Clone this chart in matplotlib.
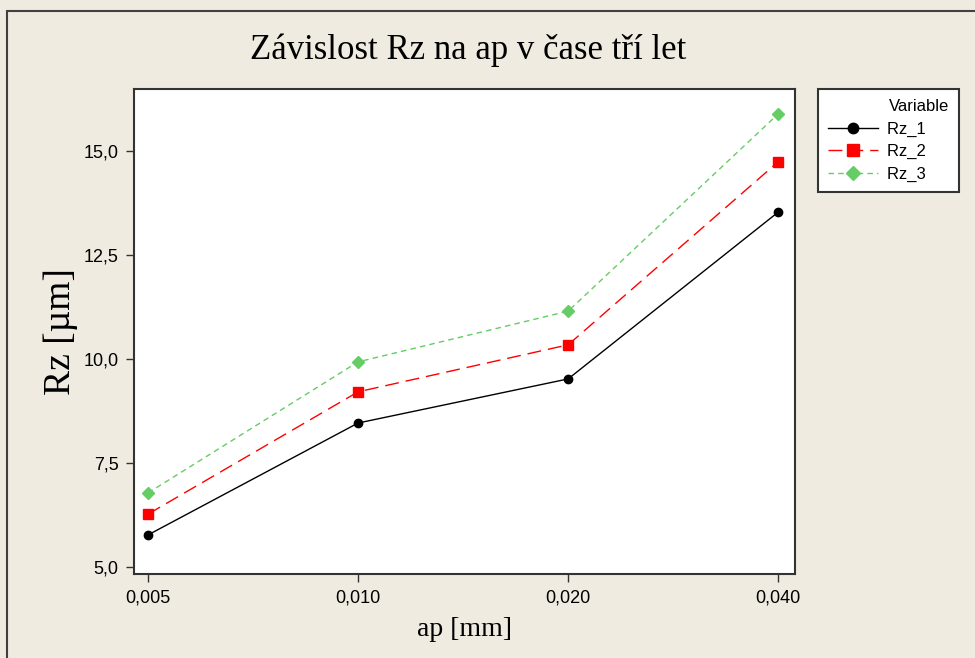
import matplotlib.pyplot as plt
from matplotlib.patches import Rectangle

# data
ap_labels = ["0,005", "0,010", "0,020", "0,040"]
rz_1 = [5.77, 8.46, 9.52, 13.53]
rz_2 = [6.27, 9.21, 10.34, 14.74]
rz_3 = [6.78, 9.93, 11.15, 15.89]
y_ticks = [5.0, 7.5, 10.0, 12.5, 15.0]
y_tick_labels = ["5,0", "7,5", "10,0", "12,5", "15,0"]

bg = "#efebe1"
W, H = 975, 658

fig = plt.figure(figsize=(W / 100, H / 100), dpi=100, facecolor=bg)
# outer frame (only left/top edges visible)
fig.patches.append(Rectangle((7 / W, -0.1), 1.2, 1 - 11 / H + 0.1, transform=fig.transFigure,
                             fill=False, edgecolor="#404040", linewidth=1.5))

ax = fig.add_axes([134 / W, 1 - 574 / H, (795 - 134) / W, (574 - 89) / H])
ax.set_facecolor("white")

# trailing spaces widen the label column so "Variable" lines up with the labels
x = list(range(len(ap_labels)))
ax.plot(x, rz_1, color="black", linestyle="-", linewidth=1, marker="o", markersize=6, label="Rz_1     ")
ax.plot(x, rz_2, color="red", linestyle=(0, (10, 5)), linewidth=1, marker="s", markersize=7, label="Rz_2     ")
ax.plot(x, rz_3, color="#66cc66", linestyle=(0, (4, 3)), linewidth=1, marker="D", markersize=6, label="Rz_3     ")

ax.set_xlim(-0.067, 3.08)
ax.set_ylim(4.83, 16.49)
ax.set_xticks(x)
ax.set_xticklabels(ap_labels)
ax.set_yticks(y_ticks)
ax.set_yticklabels(y_tick_labels)
ax.tick_params(direction="out", length=6, width=1, labelsize=13, color="#333333", pad=5)
for lab in ax.get_xticklabels() + ax.get_yticklabels():
    lab.set_family("Liberation Sans")
for s in ax.spines.values():
    s.set_linewidth(1.5)
    s.set_color("#333333")

serif = ["Liberation Serif", "DejaVu Serif"]
fig.text(468 / W, 1 - 50 / H, "Závislost Rz na ap v čase tří let", ha="center", va="center",
         fontsize=25, family=serif)
ax.set_xlabel("ap [mm]", fontsize=20, family=serif, labelpad=8)
ax.set_ylabel("Rz [µm]", fontsize=27, family=serif, labelpad=4)

leg = fig.legend(loc="upper left", bbox_to_anchor=(818 / W, 1 - 89 / H), title="Variable",
                 frameon=True, fancybox=False, edgecolor="#333333", framealpha=1,
                 prop={"family": "Liberation Sans", "size": 12}, handlelength=3.0,
                 handletextpad=0.55, borderpad=0.6, labelspacing=0.45, borderaxespad=0,
                 alignment="right", markerscale=1.25)
leg.get_title().set_fontsize(12)
leg.get_title().set_family("Liberation Sans")
leg.get_frame().set_linewidth(1.5)
leg.get_frame().set_facecolor("white")

fig.savefig("out.png", dpi=100, facecolor=bg)
